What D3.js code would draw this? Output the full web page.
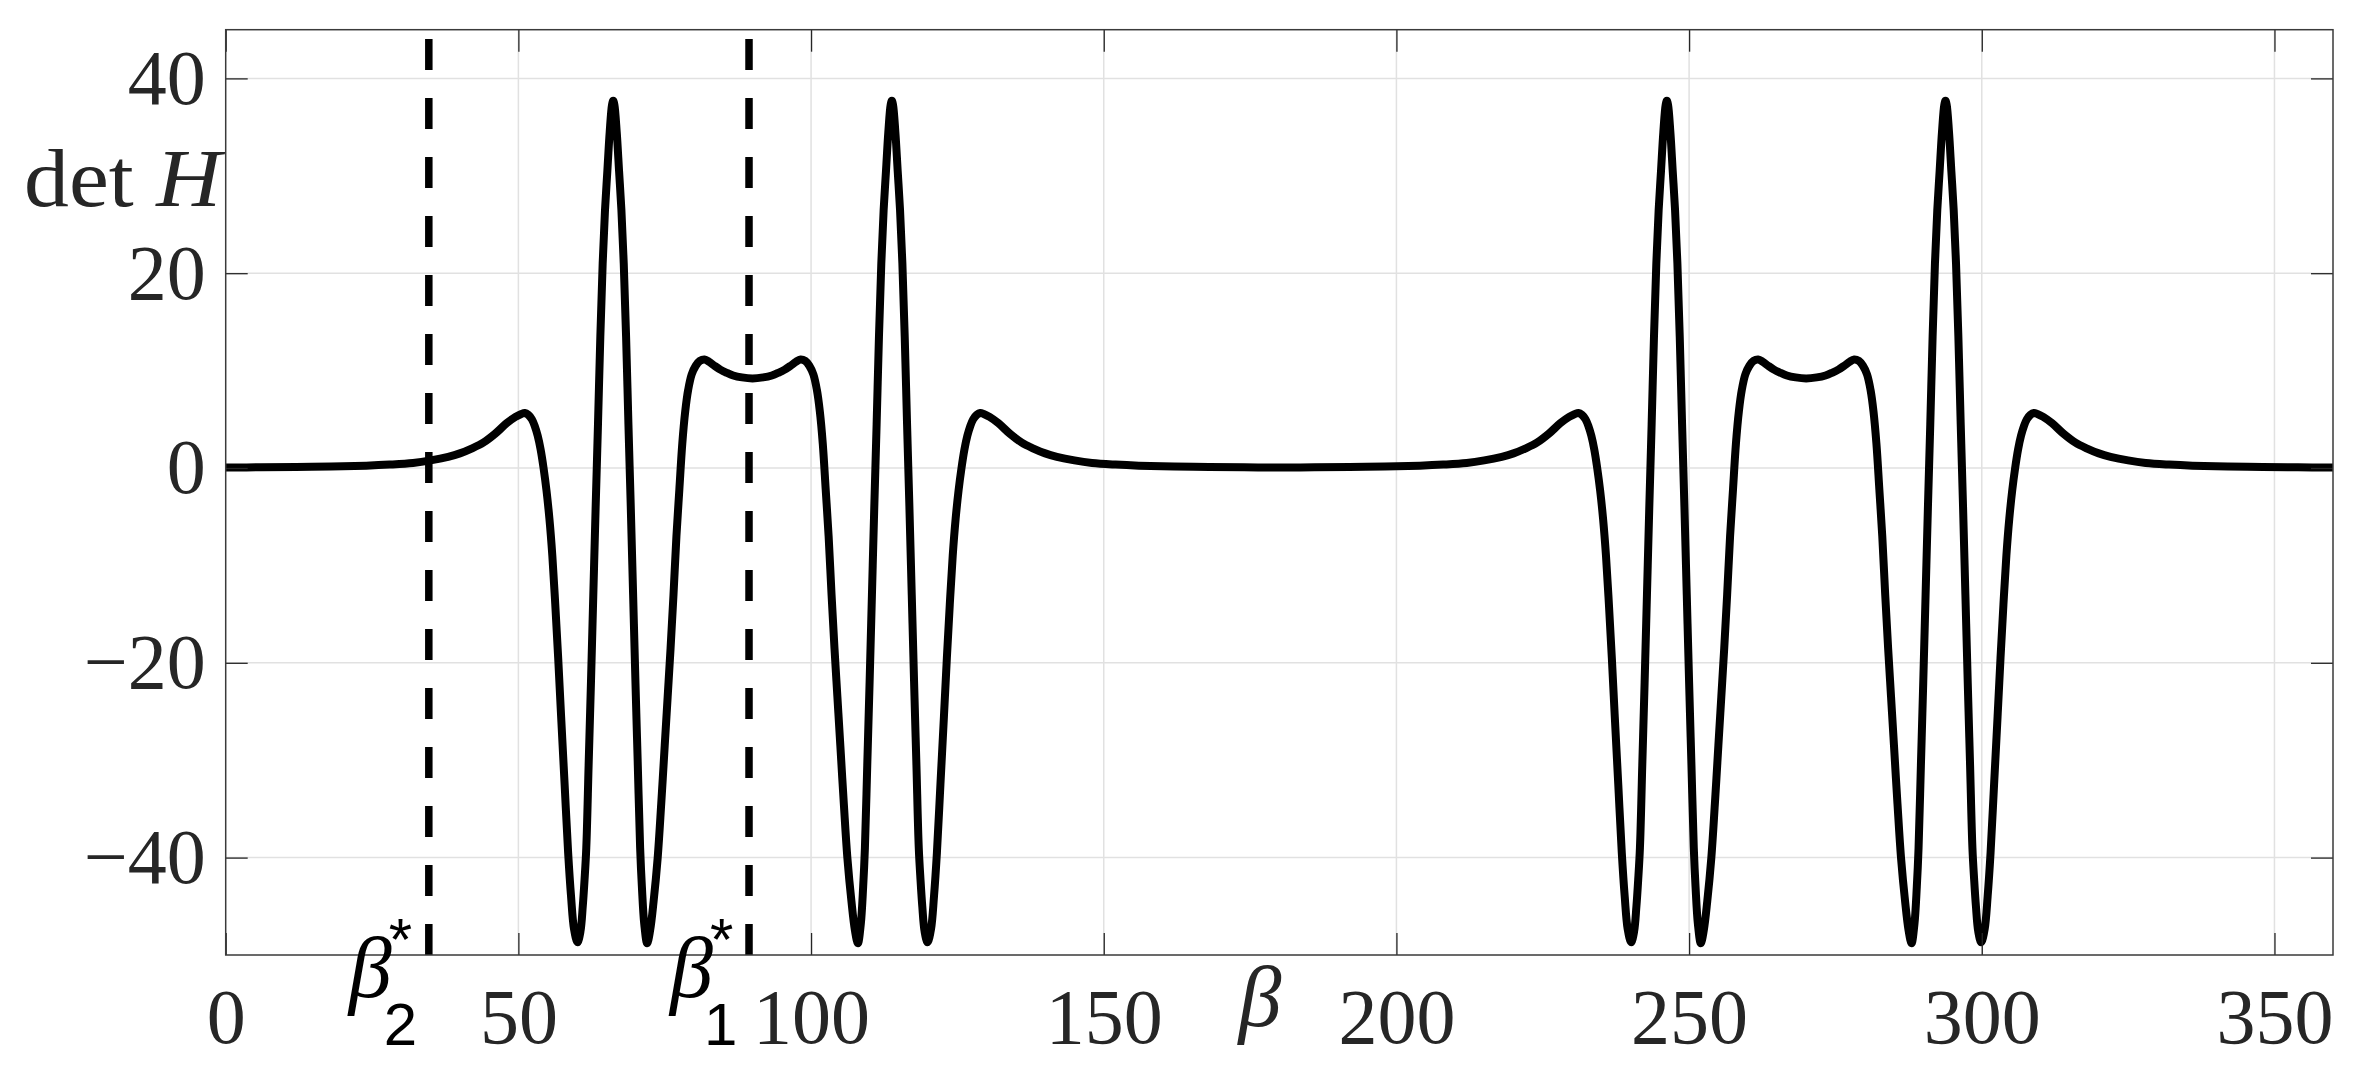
<!DOCTYPE html>
<html>
<head>
<meta charset="utf-8">
<script src="https://cdn.jsdelivr.net/npm/d3@7"></script>
<style>
  html, body { margin: 0; padding: 0; background: #ffffff; }
  svg { display: block; }
</style>
</head>
<body>
<svg id="chart" width="2367" height="1081"></svg>
<script>
// ---------------- data ----------------
const xTicks = [0, 50, 100, 150, 200, 250, 300, 350];
const yTicks = [-40, -20, 0, 20, 40];
const xDomain = [0, 360];
const yDomain = [-50, 45];
const xLabel = "β";
const yLabel = "det H";
const criticalLabels = ["2", "1"];
const criticalBetas = [34.7, 89.4];

// det H versus beta (degrees)
const curvePoints = [
  [0,0.05],[6,0.07],[12,0.1],[18,0.15],[24,0.24],[28,0.35],[32,0.52],[35,0.78],[38,1.15],[40,1.5],[42,2.0],[44,2.6],[46,3.5],[48,4.6],[49.5,5.25],[50.5,5.55],[51.1,5.65],[51.7,5.45],[52.3,5.0],[52.8,4.3],[53.3,3.3],[53.8,1.9],[54.3,0.0],[54.8,-2.3],[55.3,-5.2],[55.8,-9.0],[56.3,-14.0],[56.8,-19.5],[57.3,-25.5],[57.9,-32.5],[58.5,-39.5],[59.0,-44.0],[59.5,-47.3],[60.1,-48.7],[60.6,-47.6],[61.0,-45.0],[61.3,-42.3],[61.6,-39.0],[62.0,-30.5],[62.4,-22],[62.8,-13],[63.2,-4],[63.6,4.5],[64.0,13.5],[64.4,21],[64.8,26.5],[65.2,30.5],[65.6,34.5],[66.0,37.3],[66.2,37.7],[66.4,37.3],[66.8,34.5],[67.2,30.5],[67.6,26.5],[68.0,21],[68.4,13.5],[68.8,4.5],[69.2,-4],[69.6,-13],[70.0,-22],[70.4,-30.5],[70.8,-39],[71.1,-43],[71.5,-46.8],[72.0,-48.8],[72.5,-47.5],[73.1,-44.5],[73.8,-40],[74.4,-34.5],[75.0,-28.5],[75.5,-23.5],[76.0,-18.5],[76.5,-13],[77.0,-7],[77.5,-2.2],[78.0,2.5],[78.5,5.8],[79.0,8.0],[79.6,9.6],[80.3,10.5],[81.0,11.0],[81.8,11.15],[82.6,10.9],[83.5,10.5],[84.5,10.1],[85.5,9.8],[86.7,9.5],[88.2,9.3],[90.0,9.2],
  [91.8,9.3],[93.3,9.5],[94.5,9.8],[95.5,10.1],[96.5,10.5],[97.4,10.9],[98.2,11.15],[99.0,11.0],[99.7,10.5],[100.4,9.6],[101.0,8.0],[101.5,5.8],[102.0,2.5],[102.5,-2.2],[103.0,-7],[103.5,-13],[104.0,-18.5],[104.5,-23.5],[105.0,-28.5],[105.6,-34.5],[106.2,-40],[106.9,-44.5],[107.5,-47.5],[108.0,-48.8],[108.5,-46.8],[108.9,-43],[109.2,-39],[109.6,-30.5],[110.0,-22],[110.4,-13],[110.8,-4],[111.2,4.5],[111.6,13.5],[112.0,21],[112.4,26.5],[112.8,30.5],[113.2,34.5],[113.6,37.3],[113.8,37.7],[114.0,37.3],[114.4,34.5],[114.8,30.5],[115.2,26.5],[115.6,21],[116.0,13.5],[116.4,4.5],[116.8,-4],[117.2,-13],[117.6,-22],[118.0,-30.5],[118.4,-39],[118.7,-42.3],[119.0,-45],[119.4,-47.6],[119.9,-48.7],[120.5,-47.3],[121.0,-44],[121.5,-39.5],[122.1,-32.5],[122.7,-25.5],[123.2,-19.5],[123.7,-14],[124.2,-9],[124.7,-5.2],[125.2,-2.3],[125.7,0],[126.2,1.9],[126.7,3.3],[127.2,4.3],[127.7,5.0],[128.3,5.45],[128.9,5.65],[129.5,5.55],[130.5,5.25],[132,4.6],[134,3.5],[136,2.6],[138,2.0],[140,1.5],[142,1.15],[145,0.78],[148,0.52],[152,0.35],[156,0.24],[162,0.15],[168,0.1],[174,0.07],[180,0.05],
  [186,0.07],[192,0.1],[198,0.15],[204,0.24],[208,0.35],[212,0.52],[215,0.78],[218,1.15],[220,1.5],[222,2.0],[224,2.6],[226,3.5],[228,4.6],[229.5,5.25],[230.5,5.55],[231.1,5.65],[231.7,5.45],[232.3,5.0],[232.8,4.3],[233.3,3.3],[233.8,1.9],[234.3,0.0],[234.8,-2.3],[235.3,-5.2],[235.8,-9.0],[236.3,-14.0],[236.8,-19.5],[237.3,-25.5],[237.9,-32.5],[238.5,-39.5],[239.0,-44.0],[239.5,-47.3],[240.1,-48.7],[240.6,-47.6],[241.0,-45.0],[241.3,-42.3],[241.6,-39.0],[242.0,-30.5],[242.4,-22],[242.8,-13],[243.2,-4],[243.6,4.5],[244.0,13.5],[244.4,21],[244.8,26.5],[245.2,30.5],[245.6,34.5],[246.0,37.3],[246.2,37.7],[246.4,37.3],[246.8,34.5],[247.2,30.5],[247.6,26.5],[248.0,21],[248.4,13.5],[248.8,4.5],[249.2,-4],[249.6,-13],[250.0,-22],[250.4,-30.5],[250.8,-39],[251.1,-43],[251.5,-46.8],[252.0,-48.8],[252.5,-47.5],[253.1,-44.5],[253.8,-40],[254.4,-34.5],[255.0,-28.5],[255.5,-23.5],[256.0,-18.5],[256.5,-13],[257.0,-7],[257.5,-2.2],[258.0,2.5],[258.5,5.8],[259.0,8.0],[259.6,9.6],[260.3,10.5],[261.0,11.0],[261.8,11.15],[262.6,10.9],[263.5,10.5],[264.5,10.1],[265.5,9.8],[266.7,9.5],[268.2,9.3],[270.0,9.2],
  [271.8,9.3],[273.3,9.5],[274.5,9.8],[275.5,10.1],[276.5,10.5],[277.4,10.9],[278.2,11.15],[279.0,11.0],[279.7,10.5],[280.4,9.6],[281.0,8.0],[281.5,5.8],[282.0,2.5],[282.5,-2.2],[283.0,-7],[283.5,-13],[284.0,-18.5],[284.5,-23.5],[285.0,-28.5],[285.6,-34.5],[286.2,-40],[286.9,-44.5],[287.5,-47.5],[288.0,-48.8],[288.5,-46.8],[288.9,-43],[289.2,-39],[289.6,-30.5],[290.0,-22],[290.4,-13],[290.8,-4],[291.2,4.5],[291.6,13.5],[292.0,21],[292.4,26.5],[292.8,30.5],[293.2,34.5],[293.6,37.3],[293.8,37.7],[294.0,37.3],[294.4,34.5],[294.8,30.5],[295.2,26.5],[295.6,21],[296.0,13.5],[296.4,4.5],[296.8,-4],[297.2,-13],[297.6,-22],[298.0,-30.5],[298.4,-39],[298.7,-42.3],[299.0,-45],[299.4,-47.6],[299.9,-48.7],[300.5,-47.3],[301.0,-44],[301.5,-39.5],[302.1,-32.5],[302.7,-25.5],[303.2,-19.5],[303.7,-14],[304.2,-9],[304.7,-5.2],[305.2,-2.3],[305.7,0],[306.2,1.9],[306.7,3.3],[307.2,4.3],[307.7,5.0],[308.3,5.45],[308.9,5.65],[309.5,5.55],[310.5,5.25],[312,4.6],[314,3.5],[316,2.6],[318,2.0],[320,1.5],[322,1.15],[325,0.78],[328,0.52],[332,0.35],[336,0.24],[342,0.15],[348,0.1],[354,0.07],[360,0.05]
];

// ---------------- layout ----------------
const W = 2367, H = 1081;
const plotLeft = 225.7, plotRight = 2333, plotTop = 29.7, plotBottom = 955;
const textColor = "#262626";
const serifName = "Liberation Serif";
const sansName = "Liberation Sans";
const serif = `'${serifName}', 'Times New Roman', serif`;
const sans = `'${sansName}', Arial, sans-serif`;
const fontSize = 78;

const svg = d3.select("#chart");
svg.append("rect").attr("width", W).attr("height", H).attr("fill", "#ffffff");

const x = d3.scaleLinear().domain(xDomain).range([plotLeft, plotRight]);
const y = d3.scaleLinear().domain(yDomain).range([plotBottom, plotTop]);

// grid
const grid = svg.append("g").attr("class", "grid");
grid.selectAll("line.gx").data(xTicks.filter(d => d > xDomain[0]))
  .join("line").attr("class", "gx")
  .attr("x1", d => x(d)).attr("x2", d => x(d))
  .attr("y1", plotTop).attr("y2", plotBottom)
  .attr("stroke", "#e1e1e1").attr("stroke-width", 1.5);
grid.selectAll("line.gy").data(yTicks)
  .join("line").attr("class", "gy")
  .attr("x1", plotLeft).attr("x2", plotRight)
  .attr("y1", d => y(d)).attr("y2", d => y(d))
  .attr("stroke", "#e1e1e1").attr("stroke-width", 1.5);

// clip
svg.append("clipPath").attr("id", "plotClip")
  .append("rect").attr("x", plotLeft).attr("y", plotTop)
  .attr("width", plotRight - plotLeft).attr("height", plotBottom - plotTop);

// curve
const line = d3.line()
  .x(d => x(d[0]))
  .y(d => y(d[1]))
  .curve(d3.curveCatmullRom.alpha(0.5));

svg.append("path")
  .datum(curvePoints)
  .attr("clip-path", "url(#plotClip)")
  .attr("fill", "none")
  .attr("stroke", "#000000")
  .attr("stroke-width", 8)
  .attr("stroke-linejoin", "round")
  .attr("d", line);

// dashed critical lines (drawn from bottom to top)
const crit = svg.append("g");
criticalBetas.forEach(b => {
  crit.append("line")
    .attr("x1", x(b)).attr("x2", x(b))
    .attr("y1", y(yDomain[0])).attr("y2", y(yDomain[1]))
    .attr("stroke", "#000000")
    .attr("stroke-width", 7.5)
    .attr("stroke-dasharray", "31,28");
});

// axes
function styleAxis(g) {
  g.select(".domain").remove();
  g.selectAll(".tick line").attr("stroke", textColor).attr("stroke-width", 1.3);
  g.selectAll(".tick text")
    .attr("fill", textColor)
    .attr("font-family", serif)
    .attr("font-size", fontSize);
}

svg.append("g")
  .attr("transform", `translate(0,${plotBottom})`)
  .call(d3.axisBottom(x).tickValues(xTicks).tickSizeInner(-22).tickSizeOuter(0).tickPadding(33))
  .call(styleAxis);

svg.append("g")
  .attr("transform", `translate(0,${plotTop})`)
  .call(d3.axisTop(x).tickValues(xTicks).tickSizeInner(-22).tickSizeOuter(0).tickFormat(""))
  .call(styleAxis);

svg.append("g")
  .attr("transform", `translate(${plotLeft},0)`)
  .call(d3.axisLeft(y).tickValues(yTicks).tickSizeInner(-22).tickSizeOuter(0).tickPadding(20))
  .call(styleAxis);

svg.append("g")
  .attr("transform", `translate(${plotRight},0)`)
  .call(d3.axisRight(y).tickValues(yTicks).tickSizeInner(-22).tickSizeOuter(0).tickFormat(""))
  .call(styleAxis);

// box
svg.append("rect")
  .attr("x", plotLeft).attr("y", plotTop)
  .attr("width", plotRight - plotLeft).attr("height", plotBottom - plotTop)
  .attr("fill", "none").attr("stroke", "#3a3a3a").attr("stroke-width", 1.5);

// axis labels
svg.append("text")
  .attr("x", 1260).attr("y", 1026)
  .attr("text-anchor", "middle")
  .attr("font-family", serif).attr("font-style", "italic")
  .attr("font-size", 86).attr("fill", textColor)
  .text(xLabel);

const [yWordUp, yWordIt] = yLabel.split(" ");
const yl = svg.append("text")
  .attr("x", 24).attr("y", 206)
  .attr("textLength", 197).attr("lengthAdjust", "spacingAndGlyphs")
  .attr("font-family", serif)
  .attr("font-size", 82).attr("fill", textColor);
yl.append("tspan").text(yWordUp + " ");
yl.append("tspan").attr("font-style", "italic").text(yWordIt);

// beta* annotations (one text element each; glyph ink measured on a canvas)
const ctx = document.createElement("canvas").getContext("2d");
function inkBox(str, font) {
  ctx.font = font;
  const m = ctx.measureText(str);
  return { left: -m.actualBoundingBoxLeft, right: m.actualBoundingBoxRight };
}
const subFont = `60px '${sansName}'`;
const betaFont = `italic 86px '${serifName}'`;

criticalBetas.forEach((b, i) => {
  const lab = criticalLabels[i];
  const subInk = inkBox(lab, subFont);
  const subX = x(b) - 14 - subInk.right;
  const subLeft = subX + subInk.left;
  const starInk = inkBox("*", subFont);
  const starX = subLeft + 2 - starInk.left;
  const betaInk = inkBox("β", betaFont);
  const betaX = subLeft + 5 - betaInk.right;

  const t = svg.append("text").attr("fill", "#000000");
  t.append("tspan")
    .attr("x", betaX).attr("y", 997)
    .attr("font-family", serif).attr("font-style", "italic").attr("font-size", 86)
    .text("β");
  t.append("tspan")
    .attr("x", starX).attr("y", 960)
    .attr("font-family", sans).attr("font-size", 60)
    .text("*");
  t.append("tspan")
    .attr("x", subX).attr("y", 1045)
    .attr("font-family", sans).attr("font-size", 60)
    .text(lab);
});
</script>
</body>
</html>
